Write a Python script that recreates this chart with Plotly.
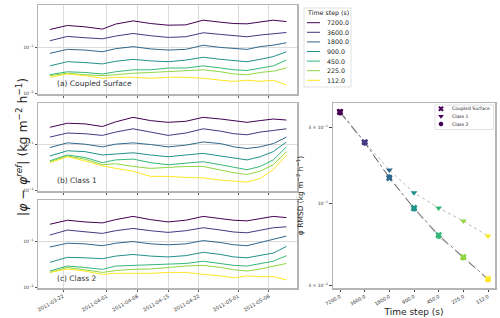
import plotly.graph_objects as go

# ---------------- data ----------------
dates = ["2011-03-19", "2011-03-23", "2011-03-27", "2011-03-31", "2011-04-03", "2011-04-07",
         "2011-04-11", "2011-04-15", "2011-04-19", "2011-04-23", "2011-04-27", "2011-04-30",
         "2011-05-03", "2011-05-06", "2011-05-09", "2011-05-12"]
steps = ["7200.0", "3600.0", "1800.0", "900.0", "450.0", "225.0", "112.0"]
colors = ["#440154", "#443983", "#31688e", "#21918c", "#35b779", "#90d743", "#fde725"]

# (a) Coupled Surface
a_7200 = [0.240, 0.294, 0.275, 0.245, 0.315, 0.370, 0.324, 0.298, 0.303, 0.383, 0.346, 0.324, 0.319, 0.346, 0.383, 0.357]
a_3600 = [0.137, 0.170, 0.159, 0.151, 0.173, 0.197, 0.176, 0.162, 0.167, 0.204, 0.188, 0.176, 0.167, 0.182, 0.197, 0.207]
a_1800 = [0.073, 0.089, 0.086, 0.079, 0.092, 0.102, 0.091, 0.086, 0.089, 0.109, 0.098, 0.094, 0.089, 0.102, 0.110, 0.124]
a_900 = [0.039, 0.048, 0.046, 0.043, 0.049, 0.054, 0.050, 0.048, 0.052, 0.060, 0.054, 0.050, 0.048, 0.054, 0.062, 0.079]
a_450 = [0.025, 0.029, 0.028, 0.026, 0.029, 0.032, 0.032, 0.035, 0.035, 0.039, 0.035, 0.032, 0.031, 0.035, 0.039, 0.052]
a_225 = [0.024, 0.027, 0.025, 0.024, 0.025, 0.027, 0.028, 0.029, 0.030, 0.032, 0.029, 0.026, 0.025, 0.028, 0.030, 0.035]
a_112 = [0.022, 0.026, 0.024, 0.021, 0.022, 0.022, 0.021, 0.022, 0.022, 0.021, 0.019, 0.018, 0.019, 0.018, 0.019, 0.015]

# (b) Class 1
b_7200 = [0.240, 0.294, 0.285, 0.249, 0.315, 0.396, 0.336, 0.308, 0.324, 0.396, 0.364, 0.336, 0.308, 0.336, 0.364, 0.346]
b_3600 = [0.146, 0.179, 0.173, 0.159, 0.188, 0.222, 0.188, 0.159, 0.179, 0.222, 0.197, 0.173, 0.164, 0.188, 0.204, 0.222]
b_1800 = [0.086, 0.109, 0.102, 0.089, 0.102, 0.109, 0.100, 0.089, 0.097, 0.114, 0.105, 0.089, 0.082, 0.089, 0.105, 0.146]
b_900 = [0.056, 0.073, 0.070, 0.059, 0.062, 0.066, 0.059, 0.054, 0.059, 0.064, 0.056, 0.050, 0.046, 0.054, 0.070, 0.114]
b_450 = [0.044, 0.059, 0.052, 0.040, 0.046, 0.048, 0.040, 0.036, 0.039, 0.042, 0.036, 0.032, 0.028, 0.033, 0.046, 0.089]
b_225 = [0.042, 0.056, 0.048, 0.036, 0.038, 0.033, 0.030, 0.032, 0.033, 0.033, 0.027, 0.024, 0.022, 0.026, 0.036, 0.070]
b_112 = [0.040, 0.054, 0.044, 0.034, 0.030, 0.026, 0.020, 0.020, 0.019, 0.0185, 0.0165, 0.0155, 0.015, 0.018, 0.028, 0.059]

# (c) Class 2
c_7200 = [0.240, 0.294, 0.270, 0.257, 0.303, 0.357, 0.303, 0.270, 0.294, 0.357, 0.319, 0.294, 0.285, 0.319, 0.357, 0.336]
c_3600 = [0.139, 0.179, 0.164, 0.151, 0.173, 0.194, 0.173, 0.159, 0.173, 0.201, 0.179, 0.162, 0.156, 0.179, 0.201, 0.211]
c_1800 = [0.076, 0.092, 0.089, 0.081, 0.092, 0.100, 0.089, 0.085, 0.089, 0.105, 0.095, 0.085, 0.081, 0.095, 0.109, 0.132]
c_900 = [0.035, 0.045, 0.044, 0.042, 0.048, 0.052, 0.048, 0.046, 0.049, 0.058, 0.052, 0.046, 0.044, 0.049, 0.056, 0.078]
c_450 = [0.0225, 0.029, 0.027, 0.0245, 0.029, 0.030, 0.030, 0.031, 0.033, 0.037, 0.033, 0.030, 0.029, 0.033, 0.037, 0.049]
c_225 = [0.021, 0.027, 0.024, 0.021, 0.023, 0.0245, 0.025, 0.027, 0.029, 0.030, 0.027, 0.024, 0.0225, 0.025, 0.029, 0.033]
c_112 = [0.021, 0.025, 0.0225, 0.019, 0.020, 0.020, 0.020, 0.021, 0.021, 0.019, 0.0176, 0.016, 0.0176, 0.017, 0.017, 0.0144]

# RMSD vs time step
rmsd_coupled = [0.377, 0.243, 0.144, 0.093, 0.0627, 0.0455, 0.0330]
rmsd_class1 = [0.382, 0.243, 0.162, 0.116, 0.093, 0.0769, 0.0618]
rmsd_class2 = [0.372, 0.240, 0.146, 0.092, 0.0615, 0.0450, 0.0328]

date_ticks = ["2011-03-22", "2011-04-01", "2011-04-08", "2011-04-15", "2011-04-22", "2011-05-01", "2011-05-08"]

panels = [
    ("(a) Coupled Surface", [a_7200, a_3600, a_1800, a_900, a_450, a_225, a_112]),
    ("(b) Class 1", [b_7200, b_3600, b_1800, b_900, b_450, b_225, b_112]),
    ("(c) Class 2", [c_7200, c_3600, c_1800, c_900, c_450, c_225, c_112]),
]
class_names = ["Coupled Surface", "Class 1", "Class 2"]
class_symbols = ["x", "triangle-down", "hexagon"]

# ---------------- layout geometry ----------------
W, H = 500, 318
FONT = "DejaVu Sans"

def px(x):
    return x / W

def py(y):
    return 1 - y / H

def ydom(top, bottom):
    return [py(bottom), py(top)]

left_x = [px(38), px(297)]
panel_y = [ydom(5, 94), ydom(103, 191), ydom(200, 288)]
right_x = [px(333), px(495)]
right_y = ydom(103, 288)

fig = go.Figure()

for i, (label, series) in enumerate(panels):
    xa = "x" if i == 0 else f"x{i+1}"
    ya = "y" if i == 0 else f"y{i+1}"
    for s, vals, col in zip(steps, series, colors):
        fig.add_trace(go.Scatter(
            x=dates, y=vals, mode="lines", name=s,
            line=dict(color=col, width=1),
            xaxis=xa, yaxis=ya, showlegend=False,
        ))

# right panel: connecting lines
for vals, dash, lc in [(rmsd_coupled, "dashdot", "rgba(40,40,40,0.8)"),
                       (rmsd_class1, "dot", "rgba(130,130,130,0.7)"),
                       (rmsd_class2, "dash", "rgba(90,90,90,0.7)")]:
    fig.add_trace(go.Scatter(x=steps, y=vals, mode="lines",
                             line=dict(color=lc, width=0.8, dash=dash),
                             xaxis="x4", yaxis="y4", showlegend=False, hoverinfo="skip"))

for name, vals, sym in zip(class_names, [rmsd_coupled, rmsd_class1, rmsd_class2], class_symbols):
    fig.add_trace(go.Scatter(x=steps, y=vals, mode="markers", name=name,
                             marker=dict(symbol=sym, size=6, color=colors, line=dict(width=0)),
                             xaxis="x4", yaxis="y4", showlegend=False))

# legend key markers for the right panel (on a hidden key axis)
fig.add_trace(go.Scatter(
    x=[0, 0, 0], y=[2, 1, 0], mode="markers",
    marker=dict(symbol=class_symbols, size=5, color=colors[0], line=dict(width=0)),
    xaxis="x5", yaxis="y5", showlegend=False, hoverinfo="skip",
))

axis_line = dict(showline=True, linecolor="#b5b5b5", linewidth=1.5, mirror=True)
tickfont = dict(family=FONT, size=5, color="#333")

layout = dict(
    width=W, height=H, margin=dict(l=0, r=0, t=0, b=0, autoexpand=False),
    paper_bgcolor="white", plot_bgcolor="white",
    font=dict(family=FONT, color="#222"),
    showlegend=False, hovermode=False,
)

for i in range(3):
    xk = "xaxis" if i == 0 else f"xaxis{i+1}"
    yk = "yaxis" if i == 0 else f"yaxis{i+1}"
    ya = "y" if i == 0 else f"y{i+1}"
    xa = "x" if i == 0 else f"x{i+1}"
    layout[xk] = dict(
        domain=left_x, anchor=ya, type="date",
        range=["2011-03-16 07:00", "2011-05-14 10:00"],
        tickvals=date_ticks, ticktext=date_ticks,
        showticklabels=(i == 2), tickangle=-30, tickfont=tickfont,
        showgrid=True, gridcolor="#dcdcdc", gridwidth=1,
        ticks="outside", ticklen=2, tickcolor="#555",
        zeroline=False, **axis_line,
    )
    layout[yk] = dict(
        domain=panel_y[i], anchor=xa, type="log",
        range=[-2.02, -0.087],
        tickvals=[0.01, 0.1], ticktext=["10<sup>−2</sup>", "10<sup>−1</sup>"],
        tickfont=dict(family=FONT, size=4.5, color="#333"),
        showgrid=True, gridcolor="#dcdcdc", gridwidth=1,
        ticks="outside", ticklen=2, tickcolor="#555",
        zeroline=False, **axis_line,
    )

layout["xaxis4"] = dict(
    domain=right_x, anchor="y4", type="category",
    categoryorder="array", categoryarray=steps,
    range=[-0.284, 6.284], tickangle=-30,
    tickfont=dict(family=FONT, size=4.8, color="#333"),
    ticks="outside", ticklen=2.5, tickcolor="#444", showgrid=False,
    title=dict(text="Time step (s)", font=dict(family=FONT, size=9, color="#222"), standoff=3),
    **axis_line,
)
layout["yaxis4"] = dict(
    domain=right_y, anchor="x4", type="log",
    range=[-1.538, -0.367],
    tickvals=[0.03, 0.1, 0.3],
    ticktext=["3 × 10<sup>−2</sup>", "10<sup>−1</sup>", "3 × 10<sup>−1</sup>"],
    tickfont=dict(family=FONT, size=4.5, color="#333"),
    ticks="outside", ticklen=2.5, tickcolor="#444", showgrid=False, zeroline=False,
    title=dict(text="φ RMSD (kg m<sup>−2</sup> h<sup>−1</sup>)",
               font=dict(family=FONT, size=7.5, color="#222"), standoff=3),
    **axis_line,
)
# hidden axis hosting the right legend key (rows 0..2)
layout["xaxis5"] = dict(domain=[px(437), px(445)], anchor="y5", range=[-1, 1], visible=False)
layout["yaxis5"] = dict(domain=[py(127.8), py(104.9)], anchor="x5", range=[-0.5, 2.5], visible=False)

shapes = []
annotations = []

# left legend ("Time step (s)")
shapes.append(dict(type="rect", xref="paper", yref="paper",
                   x0=px(304), x1=px(351), y0=py(87), y1=py(8),
                   line=dict(color="#d9d9d9", width=0.8), fillcolor="white", layer="above"))
annotations.append(dict(text="Time step (s)", xref="paper", yref="paper",
                        x=px(327.5), y=py(13.2), xanchor="center", yanchor="middle",
                        showarrow=False, font=dict(family=FONT, size=6.3, color="#222")))
for k, (s, col) in enumerate(zip(steps, colors)):
    yy = 22.7 + k * 9.6
    shapes.append(dict(type="line", xref="paper", yref="paper",
                       x0=px(307), x1=px(320), y0=py(yy), y1=py(yy),
                       line=dict(color=col, width=1), layer="above"))
    annotations.append(dict(text=s, xref="paper", yref="paper",
                            x=px(325), y=py(yy), xanchor="left", yanchor="middle",
                            showarrow=False, font=dict(family=FONT, size=6.3, color="#222")))

# right legend box and labels
shapes.append(dict(type="rect", xref="paper", yref="paper",
                   x0=px(435), x1=px(493.5), y0=py(129.5), y1=py(105),
                   line=dict(color="#d9d9d9", width=0.8), fillcolor="white", layer="below"))
for k, name in enumerate(class_names):
    yy = 108.7 + k * 7.65
    annotations.append(dict(text=name, xref="paper", yref="paper",
                            x=px(449.5), y=py(yy), xanchor="left", yanchor="middle",
                            showarrow=False, font=dict(family=FONT, size=4.6, color="#222")))

# panel labels
for i, (label, _) in enumerate(panels):
    annotations.append(dict(
        text=label, xref="paper", yref="paper",
        x=px(55), y=py([83, 180, 278][i]), xanchor="left", yanchor="middle",
        showarrow=False, font=dict(family=FONT, size=7.5, color="#333"),
    ))
# shared y title
annotations.append(dict(
    text="|<i>φ</i> − <i>φ</i><sup><i>ref</i></sup>| (kg m<sup>−2</sup> h<sup>−1</sup>)",
    xref="paper", yref="paper", x=px(12), y=py(147), textangle=-90,
    showarrow=False, font=dict(family=FONT, size=12.5, color="#222"),
))
layout["shapes"] = shapes
layout["annotations"] = annotations

fig.update_layout(**layout)
fig.write_html("out.html", config={"displayModeBar": False, "staticPlot": True},
               post_script="document.body.style.margin='0px';")
